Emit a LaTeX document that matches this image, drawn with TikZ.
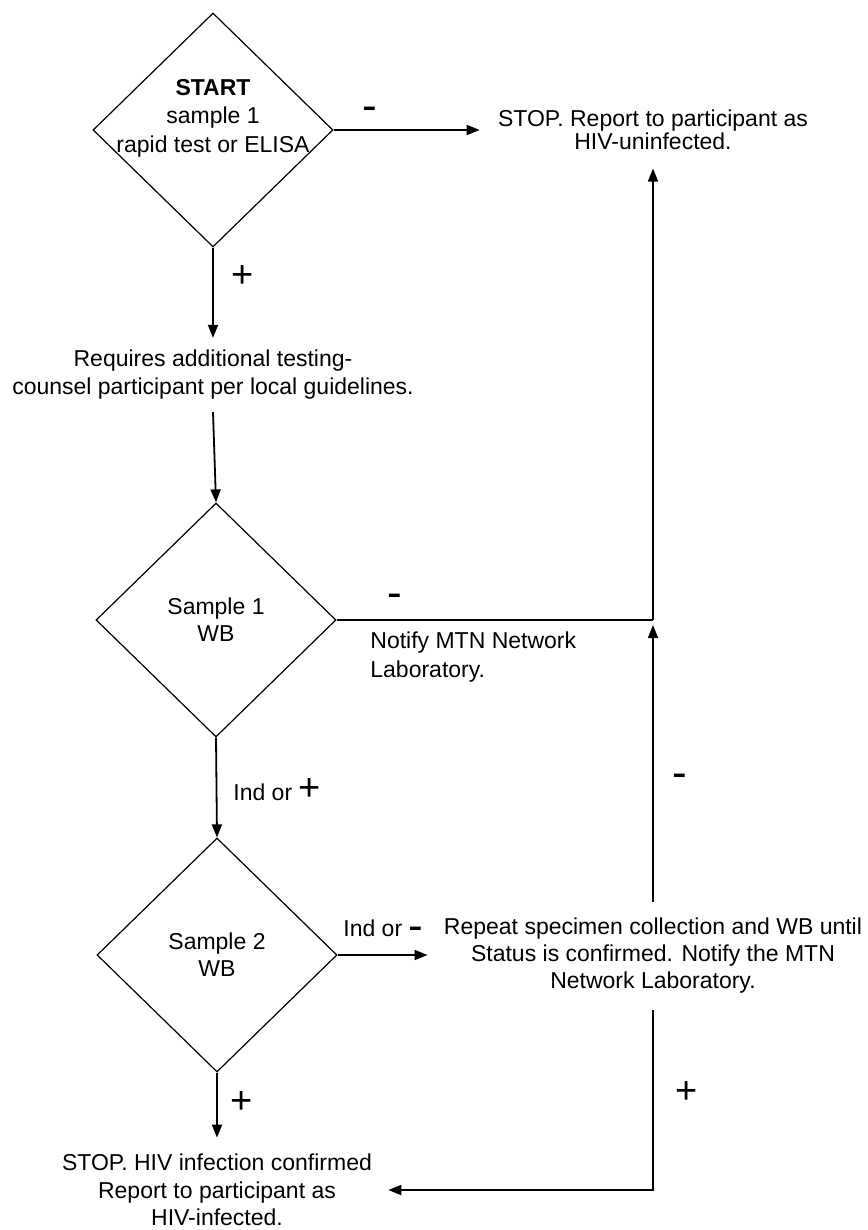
\documentclass[tikz,border=0pt]{standalone}
\usepackage{fontspec}
\setmainfont{Liberation Sans}
\usetikzlibrary{shapes.geometric,arrows.meta}
\tikzset{
  decision/.style={draw, diamond, minimum width=120pt, minimum height=117pt, inner sep=0pt,
    line width=0.6pt, align=center, font=\fontsize{11.5}{13.5}\selectfont},
  note/.style={align=center, inner sep=0pt},
  flow/.style={-{Triangle[length=6.5pt,width=5pt]}, line width=0.9pt},
  link/.style={line width=0.9pt},
  plussign/.style={inner sep=0pt, font=\fontsize{19}{19}\selectfont},
  minussign/.style={inner sep=0pt, font=\fontsize{22}{22}\selectfont}
}
\begin{document}
\begin{tikzpicture}[x=0.5pt, y=-0.5pt, font=\fontsize{11.5}{14}\selectfont]
    % Keep the page as large as the picture
    \useasboundingbox (0,0) rectangle (867,1230);

    % Draw the three test diamonds
    \node[decision] (d1) at (213,130) {};
    \node[decision] (d2) at (216,620) {Sample 1\\WB};
    \node[decision] (d3) at (217,955) {Sample 2\\WB};
    \node[note, font=\fontsize{11.5}{14.25}\selectfont] (d1txt) at (213,118) {\textbf{START}\\sample 1\\rapid test or ELISA};

    % Draw the outcome texts
    \node[note, inner sep=9pt, font=\fontsize{11.5}{10.35}\selectfont] (stop1) at (653,130) {STOP. Report to participant as\\HIV-uninfected.};
    \node[note, inner sep=6pt] (req) at (213,375) {Requires additional testing-\\counsel participant per local guidelines.};
    \node[note, align=left, anchor=north west, font=\fontsize{11.5}{14.5}\selectfont] (notify) at (370,631) {Notify MTN Network\\Laboratory.};
    \node[note, inner sep=8pt, font=\fontsize{11.5}{13.5}\selectfont] (rep) at (653,956) {Repeat specimen collection and WB until\\Status is confirmed. Notify the MTN\\Network Laboratory.};
    \node[note, inner sep=8pt, font=\fontsize{11.5}{13.75}\selectfont] (stop2) at (217,1190) {STOP. HIV infection confirmed\\Report to participant as\\HIV-infected.};
    \coordinate (j) at (653,620);

    % Draw the connectors
    \draw[flow] (d1.east) -- (stop1.west);
    \draw[flow] (d1.south) -- (req.north);
    \draw[flow] (req.south) -- (d2.north);
    \draw[link] (d2.east) -- (j);
    \draw[flow] (j) -- (stop1.south);
    \draw[flow, shorten >=2.5pt] (rep.north) -- (j);
    \draw[flow] (d2.south) -- (d3.north);
    \draw[flow] (d3.east) -- (d3.east -| rep.west);
    \draw[flow] (rep.south) |- (stop2.east);
    \draw[flow] (d3.south) -- (stop2.north);

    % Place the labels
    \node[minussign] (m1) at (370,114) {-};
    \node[plussign] (p1) at (243,277) {+};
    \node[minussign] (m2) at (395,601) {-};
    \node[minussign] (m3) at (680,781) {-};
    \node[plussign] (p2) at (687,1093) {+};
    \node[plussign] (p3) at (242,1103) {+};
    \node[note, anchor=base west] (indplus) at (233,800) {Ind or {\fontsize{19}{19}\selectfont +}};
    \node[note, anchor=base west] (indminus) at (343,936) {Ind or {\fontsize{22}{22}\selectfont\raisebox{-2pt}{-}}};
\end{tikzpicture}
\end{document}
